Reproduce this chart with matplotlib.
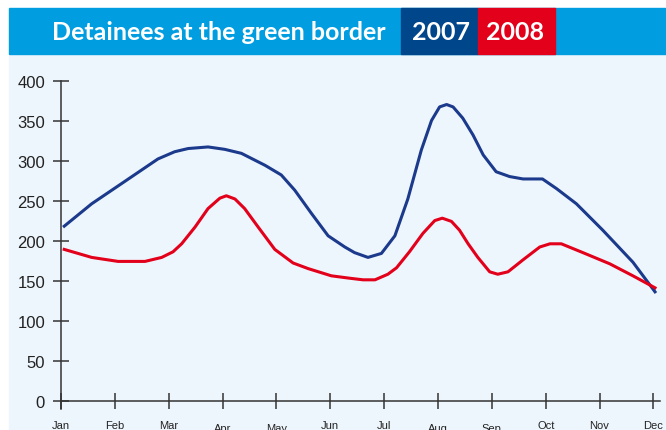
import matplotlib
matplotlib.use("Agg")
import matplotlib.pyplot as plt
from matplotlib.patches import Rectangle

# traced curve points: position in months (0 = Jan) and value
x2007 = [0.06, 0.57, 1.12, 1.80, 2.11, 2.36, 2.73, 3.04, 3.35, 3.79, 4.09, 4.34, 4.65,
         4.96, 5.27, 5.45, 5.70, 5.95, 6.20, 6.44, 6.69, 6.88, 7.03, 7.16, 7.28, 7.46,
         7.65, 7.84, 8.08, 8.33, 8.58, 8.94, 9.20, 9.57, 10.06, 10.62, 11.03]
y2007 = [218, 246, 271, 302, 311, 315, 317, 314, 309, 294, 282, 263, 234,
         206, 192, 185, 179, 184, 206, 252, 313, 350, 367, 370, 367, 353,
         332, 307, 286, 280, 277, 277, 265, 246, 213, 173, 136]

x2008 = [0.06, 0.57, 1.06, 1.56, 1.87, 2.08, 2.24, 2.49, 2.73, 2.95, 3.07, 3.23, 3.41,
         3.66, 3.97, 4.31, 4.59, 5.02, 5.36, 5.61, 5.83, 6.07, 6.23, 6.47, 6.72, 6.94,
         7.08, 7.25, 7.40, 7.56, 7.74, 7.96, 8.11, 8.30, 8.58, 8.89, 9.08, 9.29, 9.69,
         10.19, 10.62, 11.03]
y2008 = [189, 179, 174, 174, 179, 186, 196, 217, 240, 253, 256, 252, 240,
         217, 189, 172, 165, 156, 153, 151, 151, 158, 166, 186, 209, 225,
         228, 224, 213, 196, 179, 161, 158, 161, 176, 192, 196, 196, 185,
         171, 156, 141]

months = ["Jan", "Feb", "Mar", "Apr", "May", "Jun", "Jul", "Aug", "Sep", "Oct", "Nov", "Dec"]
low_months = ["Apr", "May", "Aug", "Sep"]
yticks = [0, 50, 100, 150, 200, 250, 300, 350, 400]

title = "Detainees at the green border"

fig = plt.figure(figsize=(6.66, 4.31), dpi=100)
W, H = 666, 431

def fx(px):
    return px / W

def fy(py):
    return 1 - py / H

# panel and header bar
fig.patches.append(Rectangle((fx(9), 0), 1 - fx(9), fy(55), transform=fig.transFigure,
                             color="#eef6fd", zorder=0))
fig.patches.append(Rectangle((fx(9), fy(55)), 1 - fx(9), (55 - 9) / H, transform=fig.transFigure,
                             color="#009ee0", zorder=0))
fig.patches.append(Rectangle((fx(401), fy(55)), (478 - 401) / W, (55 - 9) / H,
                             transform=fig.transFigure, color="#00468b", zorder=0.5))
fig.patches.append(Rectangle((fx(478), fy(55)), (555 - 478) / W, (55 - 9) / H,
                             transform=fig.transFigure, color="#e2001a", zorder=0.5))

fig.text(fx(52), fy(32), title, color="white", fontsize=18, family="Lato",
         weight="bold", ha="left", va="center")
fig.text(fx(441), fy(32), "2007", color="white", fontsize=18, family="Lato",
         weight="bold", ha="center", va="center")
fig.text(fx(515), fy(32), "2008", color="white", fontsize=18, family="Lato",
         weight="bold", ha="center", va="center")

ax = fig.add_axes([fx(61), (H - 409.7) / H, 599.4 / W, (409.7 - 81.5) / H])
ax.set_zorder(2)
ax.set_facecolor("none")
ax.plot(x2007, y2007, color="#1c3a8c", lw=2.2, solid_joinstyle="round", zorder=3)
ax.plot(x2008, y2008, color="#e2001a", lw=2.2, solid_joinstyle="round", zorder=3)

ax.set_xlim(0, 11.13)
ax.set_ylim(-10, 400)
for s in ["top", "right"]:
    ax.spines[s].set_visible(False)
ax.spines["left"].set_position(("data", 0))
ax.spines["bottom"].set_position(("data", 0))
for s in ["left", "bottom"]:
    ax.spines[s].set_color("#333333")
    ax.spines[s].set_linewidth(1.1)

ax.set_yticks(yticks)
ax.set_yticklabels([str(v) for v in yticks], family="Liberation Sans", fontsize=12,
                   color="#222222")
ax.set_xticks(range(len(months)))
ax.set_xticklabels([])
ax.tick_params(axis="both", direction="inout", length=11, width=1.1, color="#333333")
ax.tick_params(axis="y", pad=6)

for i, m in enumerate(months):
    off = -14 if m not in low_months else -16
    ax.annotate(m, (i, 0), xytext=(0, off), textcoords="offset points",
                ha="center", va="top", fontsize=8, family="Liberation Sans",
                color="#222222", annotation_clip=False)

fig.savefig("out.png", dpi=100)
